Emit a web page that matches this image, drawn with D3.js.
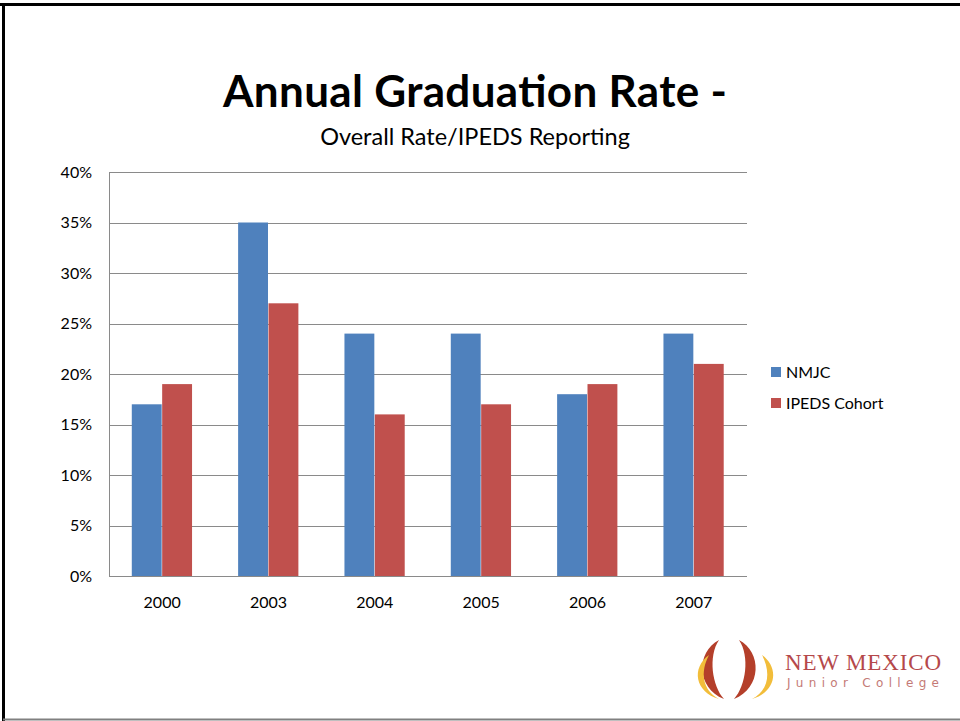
<!DOCTYPE html>
<html>
<head>
<meta charset="utf-8">
<script src="https://cdn.jsdelivr.net/npm/d3@7"></script>
<style>
  body { margin: 0; background: #fff; }
  svg { display: block; }
</style>
</head>
<body>
<div class="chart"></div>
<script>
// data
var years = ["2000", "2003", "2004", "2005", "2006", "2007"];
var seriesNames = ["NMJC", "IPEDS Cohort"];
var nmjc = [17, 35, 24, 24, 18, 24];
var ipeds = [19, 27, 16, 17, 19, 21];
var yTicks = [0, 5, 10, 15, 20, 25, 30, 35, 40];
var colors = ["#4F81BD", "#C0504D"];

var W = 960, H = 721;
var plot = {left: 109, right: 747, top: 172, bottom: 576};

var svg = d3.select(".chart")
            .append("svg")
            .attr("width", W)
            .attr("height", H);

// slide frame
svg.append("line").attr("x1", 0).attr("x2", W).attr("y1", 4.5).attr("y2", 4.5)
   .attr("stroke", "#000").attr("stroke-width", 3);
svg.append("line").attr("x1", 3.5).attr("x2", 3.5).attr("y1", 3).attr("y2", H)
   .attr("stroke", "#000").attr("stroke-width", 3);
svg.append("line").attr("x1", 3).attr("x2", W).attr("y1", 719.5).attr("y2", 719.5)
   .attr("stroke", "#808080").attr("stroke-width", 2);

// titles
svg.append("text")
   .attr("x", 475).attr("y", 107)
   .attr("text-anchor", "middle")
   .style("font-family", "Lato, 'Open Sans', sans-serif")
   .style("font-weight", "bold")
   .style("font-size", "44px")
   .attr("textLength", 504)
   .text("Annual Graduation Rate -");

svg.append("text")
   .attr("x", 475).attr("y", 145)
   .attr("text-anchor", "middle")
   .style("font-family", "Lato, 'Open Sans', sans-serif")
   .style("font-size", "23.5px")
   .text("Overall Rate/IPEDS Reporting");

var x0 = d3.scaleBand()
           .domain(years)
           .range([plot.left, plot.right])
           .padding(0);

// Excel-style gap width of 150%
var bw = x0.bandwidth();
var x1 = d3.scaleBand()
           .domain(seriesNames)
           .range([bw * 0.75 / 3.5, bw * 2.75 / 3.5]);

var y = d3.scaleLinear()
          .domain([0, 40])
          .range([plot.bottom, plot.top]);

// gridlines
svg.append("g")
   .selectAll("line")
   .data(yTicks)
   .enter()
   .append("line")
   .attr("x1", plot.left)
   .attr("x2", plot.right)
   .attr("y1", function(d) { return Math.round(y(d)) + 0.5; })
   .attr("y2", function(d) { return Math.round(y(d)) + 0.5; })
   .attr("stroke", "#8a8a8a")
   .attr("stroke-width", 1);

// y axis line
svg.append("line")
   .attr("x1", plot.left + 0.5).attr("x2", plot.left + 0.5)
   .attr("y1", plot.top).attr("y2", plot.bottom)
   .attr("stroke", "#8a8a8a");

// y labels
svg.append("g")
   .selectAll("text")
   .data(yTicks)
   .enter()
   .append("text")
   .attr("x", 92)
   .attr("y", function(d) { return y(d) + 5.5; })
   .attr("text-anchor", "end")
   .style("font-family", "Lato, 'Open Sans', sans-serif")
   .style("font-size", "16px")
   .text(function(d) { return d + "%"; });

// bars
var rows = years.map(function(yr, i) {
    return {year: yr, vals: [nmjc[i], ipeds[i]]};
});

var groups = svg.append("g")
   .selectAll("g")
   .data(rows)
   .enter()
   .append("g")
   .attr("transform", function(d) { return "translate(" + x0(d.year) + ",0)"; });

groups.selectAll("rect")
   .data(function(d) {
       return d.vals.map(function(v, j) { return {name: seriesNames[j], v: v, j: j}; });
   })
   .enter()
   .append("rect")
   .attr("x", function(d) { return x1(d.name); })
   .attr("width", x1.bandwidth() - 0.5)
   .attr("y", function(d) { return y(d.v); })
   .attr("height", function(d) { return y(0) - y(d.v); })
   .attr("fill", function(d) { return colors[d.j]; });

// x axis line on top of bars
svg.append("line")
   .attr("x1", plot.left).attr("x2", plot.right)
   .attr("y1", plot.bottom + 0.5).attr("y2", plot.bottom + 0.5)
   .attr("stroke", "#8a8a8a");

// x labels
svg.append("g")
   .selectAll("text")
   .data(years)
   .enter()
   .append("text")
   .attr("x", function(d) { return x0(d) + bw / 2; })
   .attr("y", 608)
   .attr("text-anchor", "middle")
   .style("font-family", "Lato, 'Open Sans', sans-serif")
   .style("font-size", "16px")
   .text(function(d) { return d; });

// legend
var legend = svg.append("g")
   .selectAll("g")
   .data(seriesNames)
   .enter()
   .append("g")
   .attr("transform", function(d, i) { return "translate(771," + (367 + i * 31) + ")"; });

legend.append("rect")
   .attr("width", 10).attr("height", 10)
   .attr("fill", function(d, i) { return colors[i]; });

legend.append("text")
   .attr("x", 15).attr("y", 10.5)
   .style("font-family", "Lato, 'Open Sans', sans-serif")
   .style("font-size", "16px")
   .text(function(d) { return d; });

// college logo
var logo = svg.append("g");
var flames = [
    {d: "M719 640 C696 652 696 688 724 699 C712 686 708 656 719 640 Z", fill: "#b43f2a"},
    {d: "M709 655 C691 668 695 692 719 699 C702 690 700 672 709 655 Z", fill: "#f2bd3a"},
    {d: "M739 640 C762 652 762 688 734 699 C746 686 750 656 739 640 Z", fill: "#b43f2a"},
    {d: "M762 655 C780 668 776 692 752 699 C769 690 771 672 762 655 Z", fill: "#f2bd3a"}
];
logo.selectAll("path")
   .data(flames)
   .enter()
   .append("path")
   .attr("d", function(d) { return d.d; })
   .attr("fill", function(d) { return d.fill; });

logo.append("text")
   .attr("x", 785).attr("y", 670)
   .style("font-family", "'Liberation Serif', serif")
   .style("font-size", "23px")
   .attr("fill", "#b5484a")
   .attr("textLength", 156)
   .text("NEW MEXICO");

logo.append("text")
   .attr("x", 787).attr("y", 687)
   .style("font-family", "'DejaVu Sans', sans-serif")
   .style("font-size", "12px")
   .attr("fill", "#c47a76")
   .attr("textLength", 152)
   .text("Junior College");
</script>
</body>
</html>
